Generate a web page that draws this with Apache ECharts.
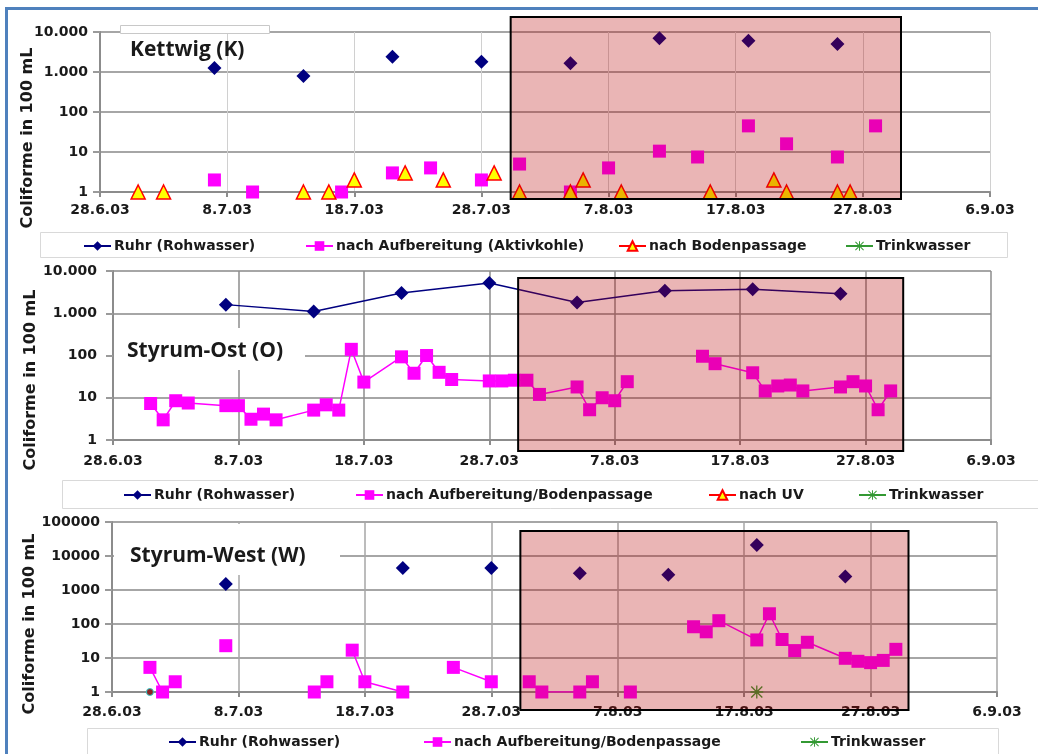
<!DOCTYPE html>
<html><head><meta charset="utf-8">
<script src="https://cdn.jsdelivr.net/npm/echarts@6/dist/echarts.min.js"></script>
<style>html,body{margin:0;padding:0;background:#fff}#c{width:1038px;height:754px}</style>
</head><body><div id="c"></div>
<script>
// ---------- tick labels ----------
const xTickLabels = ['28.6.03','8.7.03','18.7.03','28.7.03','7.8.03','17.8.03','27.8.03','6.9.03'];
const yTickLabelsKO = ['1','10','100','1.000','10.000'];
const yTickLabelsW = ['1','10','100','1000','10000','100000'];
// shaded period (days after 28.6.03)
const shadePeriod = [32.3, 63.0];

// ---------- Kettwig (K) ----------
const K_ruhrDates = ['7.7','14.7','21.7','28.7','4.8','11.8','18.8','25.8'];
const K_ruhrVals  = [1250, 800, 2400, 1800, 1650, 7000, 6000, 5000];
const K_aufDates  = ['7.7','10.7','17.7','21.7','24.7','28.7','31.7','4.8','7.8','11.8','14.8','18.8','21.8','25.8','28.8'];
const K_aufVals   = [2, 1, 1, 3, 4, 2, 5, 1, 4, 10.5, 7.5, 45, 16, 7.5, 45];
const K_bodenDates= ['1.7','3.7','14.7','16.7','18.7','22.7','25.7','29.7','31.7','4.8','5.8','8.8','15.8','20.8','21.8','25.8','26.8'];
const K_bodenVals = [1, 1, 1, 1, 2, 3, 2, 3, 1, 1, 2, 1, 1, 2, 1, 1, 1];

// ---------- Styrum-Ost (O) ----------
const O_ruhrDates = ['7.7','14.7','21.7','28.7','4.8','11.8','18.8','25.8'];
const O_ruhrVals  = [1600, 1100, 3000, 5200, 1800, 3400, 3700, 2900];
const O_aufDates  = ['1.7','2.7','3.7','4.7','7.7','8.7','9.7','10.7','11.7','14.7','15.7','16.7','17.7','18.7','21.7','22.7','23.7','24.7','25.7','28.7','29.7','30.7','31.7','1.8','4.8','5.8','6.8','7.8','8.8','11.8','14.8','15.8','18.8','19.8','20.8','21.8','22.8','25.8','26.8','27.8','28.8','29.8'];
const O_aufVals   = [7.3, 3.0, 8.5, 7.5, 6.5, 6.5, 3.1, 4.1, 3.0, 5.1, 6.8, 5.1, 140, 23.5, 93, 38, 100, 40, 27, 25, 25, 26, 26, 12, 18, 5.2, 10, 8.5, 24, null, 96, 64, 39, 14.5, 19, 20, 14.5, 18, 24, 19, 5.2, 14.5];

// ---------- Styrum-West (W) ----------
const W_ruhrDates = ['7.7','21.7','28.7','4.8','11.8','18.8','25.8'];
const W_ruhrVals  = [1500, 4400, 4400, 3100, 2800, 21000, 2500];
const W_aufDates  = ['1.7','2.7','3.7','5.7','7.7','10.7','14.7','15.7','16.7','17.7','18.7','21.7','23.7','25.7','28.7','29.7','31.7','1.8','4.8','5.8','6.8','8.8','10.8','13.8','14.8','15.8','18.8','19.8','20.8','21.8','22.8','25.8','26.8','27.8','28.8','29.8'];
const W_aufVals   = [5.3, 1, 2, null, 23, null, 1, 2, null, 17, 2, 1, null, 5.3, 2, null, 2, 1, 1, 2, null, 1, null, 83, 59, 125, 34, 200, 35, 16.5, 29, 9.8, 8, 7.3, 8.5, 18];
const W_trinkDates= ['18.8'];
const W_trinkVals = [1];
const W_otherDates= ['1.7'];
const W_otherVals = [1];

// ---------- helpers ----------
const DAY0 = Date.UTC(2003, 5, 28);
function dayOf(s){ const p = s.split('.').map(Number); return (Date.UTC(2003, p[1]-1, p[0]) - DAY0) / 864e5; }
function pairs(dates, vals){ return dates.map((d,i)=>[dayOf(d), vals[i] == null ? '-' : vals[i]]); }

const FONT = 'DejaVu Sans';
const STAR = 'path://M9,0h2v20h-2z M0,9h20v2h-20z M2.2,0.8 L19.2,17.8 L17.8,19.2 L0.8,2.2Z M17.8,0.8 L19.2,2.2 L2.2,19.2 L0.8,17.8Z';
const NAVY = '#000080', MAG = '#ff00ff', RED = '#ff0000', YEL = '#ffff00', GRN = '#339933';

function xAxis(gi, margin, vColor, vWidth){
  return {type:'value', gridIndex:gi, min:0, max:70, interval:10,
    axisLine:{show:true, lineStyle:{color:'#8c8c8c', width:2}},
    axisTick:{show:true, length:5, lineStyle:{color:'#8c8c8c', width:2}},
    axisLabel:{formatter:v=>xTickLabels[Math.round(v/10)], fontFamily:FONT, fontWeight:'bold', fontSize:14, color:'#1a1a1a', margin:margin},
    splitLine:{show:true, lineStyle:{color:vColor, width:vWidth}}};
}
function yAxis(gi, max, labels, margin){
  return {type:'log', logBase:10, gridIndex:gi, min:1, max:max,
    axisLine:{show:true, lineStyle:{color:'#8c8c8c', width:2}},
    axisTick:{show:true, length:7, lineStyle:{color:'#9a9a9a', width:2}},
    axisLabel:{formatter:v=>labels[Math.round(Math.log10(v))], fontFamily:FONT, fontWeight:'bold', fontSize:14, color:'#1a1a1a', margin:margin},
    splitLine:{show:true, lineStyle:{color:'#a6a6a6', width:2}}};
}
function pt(name, gi, data, sym, size, color, opts){
  return Object.assign({name:name, type:'line', xAxisIndex:gi, yAxisIndex:gi, data:data,
    symbol:sym, symbolSize:size, showSymbol:true, showAllSymbol:true, connectNulls:false,
    itemStyle:{color:color, opacity:1}, lineStyle:{color:color, width:1.5, opacity:0},
    emphasis:{disabled:true}, z:3}, opts||{});
}
function shade(gi, offTop, offBot){
  return {type:'custom', xAxisIndex:gi, yAxisIndex:gi, data:[[shadePeriod[0], shadePeriod[1]]], z:10, silent:true,
    renderItem:function(params, api){
      const cs = params.coordSys;
      const x0 = api.coord([api.value(0), 1])[0];
      const x1 = api.coord([api.value(1), 1])[0];
      return {type:'rect', shape:{x:x0, y:cs.y+offTop, width:x1-x0, height:cs.height-offTop+offBot},
        style:{fill:'rgba(184,0,0,0.29)', stroke:'#000', lineWidth:2}};
    }};
}
function legendItem(name, left, top){
  return {show:true, left:left, top:top, itemWidth:27, itemHeight:12, padding:0,
    data:[name], selectedMode:false, formatter:n=>n.split('|')[1],
    lineStyle:{width:2, opacity:1},
    textStyle:{fontFamily:FONT, fontWeight:'bold', fontSize:14, color:'#1a1a1a', padding:[0,0,0,-2]}};
}

const titleFont = 'bold 21px "Open Sans"';
const axisTitleFont = 'bold 16px "DejaVu Sans"';

const option = {
  animation:false,
  backgroundColor:'#fff',
  grid:[
    {left:100, top:32, width:890, height:160},
    {left:113, top:271, width:878, height:169},
    {left:112, top:522, width:885, height:170}
  ],
  xAxis:[ xAxis(0, 11, '#d0d0d0', 1), xAxis(1, 14, '#8c8c8c', 1.5), xAxis(2, 13, '#a6a6a6', 1.5) ],
  yAxis:[ yAxis(0, 10000, yTickLabelsKO, 12), yAxis(1, 10000, yTickLabelsKO, 16), yAxis(2, 100000, yTickLabelsW, 12) ],
  legend:[
    legendItem('K|Ruhr (Rohwasser)', 83, 239),
    legendItem('K|nach Aufbereitung (Aktivkohle)', 305, 239),
    legendItem('K|nach Bodenpassage', 618, 239),
    legendItem('K|Trinkwasser', 845, 239),
    legendItem('O|Ruhr (Rohwasser)', 123, 488),
    legendItem('O|nach Aufbereitung/Bodenpassage', 355, 488),
    legendItem('O|nach UV', 708, 488),
    legendItem('O|Trinkwasser', 858, 488),
    legendItem('W|Ruhr (Rohwasser)', 168, 735),
    legendItem('W|nach Aufbereitung/Bodenpassage', 423, 735),
    legendItem('W|Trinkwasser', 800, 735)
  ],
  series:[
    pt('K|Ruhr (Rohwasser)', 0, pairs(K_ruhrDates, K_ruhrVals), 'diamond', 14, NAVY),
    pt('K|nach Aufbereitung (Aktivkohle)', 0, pairs(K_aufDates, K_aufVals), 'rect', 13, MAG),
    pt('K|nach Bodenpassage', 0, pairs(K_bodenDates, K_bodenVals), 'triangle', 14, YEL,
       {itemStyle:{color:YEL, borderColor:RED, borderWidth:1.5}, lineStyle:{color:RED, width:1.5, opacity:0}}),
    pt('K|Trinkwasser', 0, [], STAR, 12, GRN),
    shade(0, -15, 7),

    pt('O|Ruhr (Rohwasser)', 1, pairs(O_ruhrDates, O_ruhrVals), 'diamond', 14, NAVY, {lineStyle:{color:NAVY, width:1.5, opacity:1}}),
    pt('O|nach Aufbereitung/Bodenpassage', 1, pairs(O_aufDates, O_aufVals), 'rect', 13, MAG, {lineStyle:{color:MAG, width:1.5, opacity:1}}),
    pt('O|nach UV', 1, [], 'triangle', 14, YEL, {itemStyle:{color:YEL, borderColor:RED, borderWidth:1.5}, lineStyle:{color:RED, width:1.5, opacity:0}}),
    pt('O|Trinkwasser', 1, [], STAR, 12, GRN),
    shade(1, 7, 11),

    pt('W|Ruhr (Rohwasser)', 2, pairs(W_ruhrDates, W_ruhrVals), 'diamond', 14, NAVY),
    pt('W|nach Aufbereitung/Bodenpassage', 2, pairs(W_aufDates, W_aufVals), 'rect', 13, MAG, {lineStyle:{color:MAG, width:1.5, opacity:1}}),
    pt('W|Trinkwasser', 2, pairs(W_trinkDates, W_trinkVals), STAR, 13, GRN),
    pt('W|sonstige', 2, pairs(W_otherDates, W_otherVals), 'circle', 7, '#8b2323', {itemStyle:{color:'#8b2323', borderColor:'#33cccc', borderWidth:1}}),
    shade(2, 9, 18)
  ],
  graphic:[
    // outer frame lines
    {type:'line', z:100, shape:{x1:6, y1:8.5, x2:1038, y2:8.5}, style:{stroke:'#4f81bd', lineWidth:3}},
    {type:'line', z:100, shape:{x1:6.5, y1:7, x2:6.5, y2:754}, style:{stroke:'#4f81bd', lineWidth:3}},
    // legend frames
    {type:'rect', z:1, shape:{x:40.5, y:232.5, width:967, height:25}, style:{fill:'none', stroke:'#d9d9d9', lineWidth:1}},
    {type:'rect', z:1, shape:{x:62.5, y:480.5, width:990, height:28}, style:{fill:'none', stroke:'#d9d9d9', lineWidth:1}},
    {type:'rect', z:1, shape:{x:87.5, y:728.5, width:911, height:40}, style:{fill:'none', stroke:'#d9d9d9', lineWidth:1}},
    // panel title boxes
    {type:'rect', z:1, shape:{x:120.5, y:25.5, width:149, height:8}, style:{fill:'#fff', stroke:'#c8c8c8', lineWidth:1}},
    {type:'rect', z:1, shape:{x:114, y:328, width:191, height:42}, style:{fill:'#fff'}},
    {type:'rect', z:1, shape:{x:114, y:524, width:226, height:51}, style:{fill:'#fff'}},
    {type:'text', z:5, x:130, y:50, style:{text:'Kettwig (K)', font:titleFont, fill:'#1a1a1a', textVerticalAlign:'middle'}},
    {type:'text', z:5, x:127, y:351, style:{text:'Styrum-Ost (O)', font:titleFont, fill:'#1a1a1a', textVerticalAlign:'middle'}},
    {type:'text', z:5, x:130, y:556, style:{text:'Styrum-West (W)', font:titleFont, fill:'#1a1a1a', textVerticalAlign:'middle'}},
    // y axis titles
    {type:'text', z:5, x:28, y:138, rotation:Math.PI/2, style:{text:'Coliforme in 100 mL', font:axisTitleFont, fill:'#1a1a1a', textAlign:'center', textVerticalAlign:'middle'}},
    {type:'text', z:5, x:31, y:380, rotation:Math.PI/2, style:{text:'Coliforme in 100 mL', font:axisTitleFont, fill:'#1a1a1a', textAlign:'center', textVerticalAlign:'middle'}},
    {type:'text', z:5, x:30, y:624, rotation:Math.PI/2, style:{text:'Coliforme in 100 mL', font:axisTitleFont, fill:'#1a1a1a', textAlign:'center', textVerticalAlign:'middle'}}
  ]
};
const chart = echarts.init(document.getElementById('c'), null, {renderer:'canvas'});
chart.setOption(option);
</script>
</body></html>
